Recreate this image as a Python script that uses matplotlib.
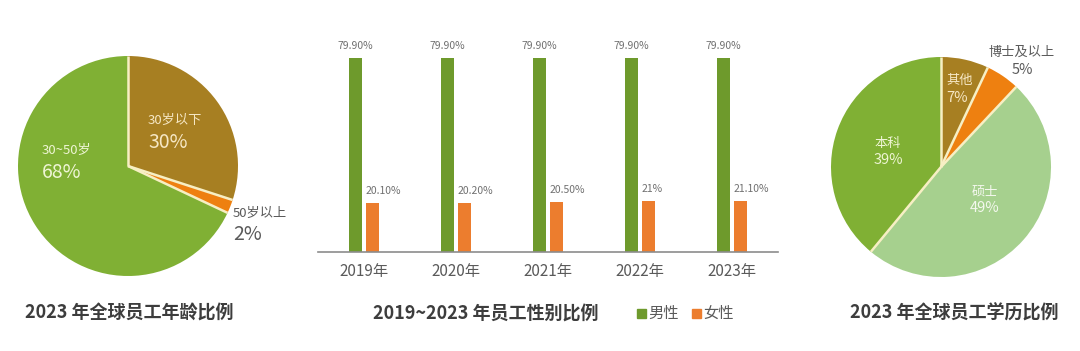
import matplotlib
matplotlib.use("Agg")
import matplotlib.pyplot as plt
import numpy as np

plt.rcParams['font.family'] = ['Noto Sans CJK SC', 'DejaVu Sans']

W, H = 1080, 351

# ── data ──────────────────────────────────────────────────────────────────────
age_labels = ["30岁以下", "50岁以上", "30~50岁"]
age_values = [30, 2, 68]
age_colors = ["#a77f22", "#ee8010", "#80b034"]

years = ["2019年", "2020年", "2021年", "2022年", "2023年"]
male = [79.9, 79.9, 79.9, 79.9, 79.9]
female = [20.1, 20.2, 20.5, 21.0, 21.1]
male_text = ["79.90%"] * 5
female_text = ["20.10%", "20.20%", "20.50%", "21%", "21.10%"]

edu_labels = ["其他", "博士及以上", "硕士", "本科"]
edu_values = [7, 5, 49, 39]
edu_colors = ["#a77f22", "#ee8010", "#a6d08e", "#80b034"]

BAR_GREEN = "#6e9a2c"
BAR_ORANGE = "#ec7d2e"
EDGE = "#f7efc4"
GRAY = "#5a5a5a"
LIGHT = "#707070"
TITLE = "#3d3d3d"

fig = plt.figure(figsize=(W / 100, H / 100), dpi=100)
fig.patch.set_facecolor("white")


def px_axes(cx, cy, r):
    return fig.add_axes([(cx - r) / W, (H - cy - r) / H, 2 * r / W, 2 * r / H])


def pie_text(ax, cx, cy, r, px, py, s, **kw):
    ax.text((px - cx) / r, (cy - py) / r, s, **kw)


def draw_pie(ax, values, colors):
    wedges, _ = ax.pie(values, colors=colors, startangle=90, counterclock=False,
                       radius=1, wedgeprops=dict(linewidth=0))
    # separator lines between wedges only (no outer rim)
    for w in wedges:
        a = np.deg2rad(w.theta1)
        ax.plot([0, np.cos(a)], [0, np.sin(a)], color=EDGE, lw=1.8, solid_capstyle="butt")
    ax.set_xlim(-1, 1); ax.set_ylim(-1, 1); ax.axis("off")


# ── age pie ───────────────────────────────────────────────────────────────────
cx1, cy1, r1 = 128, 166, 110
ax1 = px_axes(cx1, cy1, r1)
draw_pie(ax1, age_values, age_colors)
pie_text(ax1, cx1, cy1, r1, 148, 120, age_labels[0], color="#f6e7c4", fontsize=9.5, va="center")
pie_text(ax1, cx1, cy1, r1, 148, 142, f"{age_values[0]}%", color="#f6e7c4", fontsize=14, va="center")
pie_text(ax1, cx1, cy1, r1, 42, 150, age_labels[2], color="#eef5d4", fontsize=9.5, va="center")
pie_text(ax1, cx1, cy1, r1, 42, 173, f"{age_values[2]}%", color="#eef5d4", fontsize=14, va="center")
pie_text(ax1, cx1, cy1, r1, 233, 213, age_labels[1], color=GRAY, fontsize=9.5, va="center")
pie_text(ax1, cx1, cy1, r1, 233, 235, f"{age_values[1]}%", color=GRAY, fontsize=14, va="center")

# ── education pie ─────────────────────────────────────────────────────────────
cx2, cy2, r2 = 941, 167, 110
ax3 = px_axes(cx2, cy2, r2)
draw_pie(ax3, edu_values, edu_colors)
pie_text(ax3, cx2, cy2, r2, 946, 80, edu_labels[0], color="#f6e7c4", fontsize=9.5, va="center")
pie_text(ax3, cx2, cy2, r2, 946, 98, f"{edu_values[0]}%", color="#f6e7c4", fontsize=10.5, va="center")
pie_text(ax3, cx2, cy2, r2, 1022, 52, edu_labels[1], color=GRAY, fontsize=9.5, va="center", ha="center")
pie_text(ax3, cx2, cy2, r2, 1022, 70, f"{edu_values[1]}%", color=GRAY, fontsize=10.5, va="center", ha="center")
pie_text(ax3, cx2, cy2, r2, 985, 192, edu_labels[2], color="#f4f8ee", fontsize=9.5, va="center", ha="center")
pie_text(ax3, cx2, cy2, r2, 985, 208, f"{edu_values[2]}%", color="#f4f8ee", fontsize=10.5, va="center", ha="center")
pie_text(ax3, cx2, cy2, r2, 888, 143, edu_labels[3], color="#eef5d4", fontsize=9.5, va="center", ha="center")
pie_text(ax3, cx2, cy2, r2, 888, 160, f"{edu_values[3]}%", color="#eef5d4", fontsize=10.5, va="center", ha="center")

# ── gender bars ───────────────────────────────────────────────────────────────
left, right, base, top = 318, 778, 252, 30
ax2 = fig.add_axes([left / W, (H - base) / H, (right - left) / W, (base - top) / H])
x = np.arange(len(years))
bw, off = 0.141, 0.092
ax2.bar(x - off, male, bw, color=BAR_GREEN)
ax2.bar(x + off, female, bw, color=BAR_ORANGE)
ax2.set_xlim(-0.5, 4.5)
ax2.set_ylim(0, 222 / 2.43)
for i in range(len(years)):
    ax2.annotate(male_text[i], (x[i] - off, male[i]), xytext=(0, 5), textcoords="offset points",
                 ha="center", va="bottom", fontsize=7.5, color=LIGHT)
    ax2.annotate(female_text[i], (x[i] + off - bw / 2, female[i]), xytext=(0, 5), textcoords="offset points",
                 ha="left", va="bottom", fontsize=7.5, color=LIGHT)
for s in ("top", "right", "left"):
    ax2.spines[s].set_visible(False)
ax2.spines["bottom"].set_color("#8c8c8c")
ax2.spines["bottom"].set_linewidth(1.2)
ax2.set_yticks([])
ax2.set_xticks(x)
ax2.set_xticklabels(years, fontsize=11, color=GRAY)
ax2.tick_params(axis="x", length=0, pad=8)
ax2.patch.set_alpha(0)

# ── titles and legend ─────────────────────────────────────────────────────────
ty = 1 - 313 / H
fig.text(25 / W, ty, "2023 年全球员工年龄比例", fontsize=13, fontweight="bold", color=TITLE, va="center")
fig.text(373 / W, ty, "2019~2023 年员工性别比例", fontsize=13, fontweight="bold", color=TITLE, va="center")
fig.text(850 / W, ty, "2023 年全球员工学历比例", fontsize=13, fontweight="bold", color=TITLE, va="center")

for lx, col, lab in [(637, BAR_GREEN, "男性"), (692, BAR_ORANGE, "女性")]:
    fig.patches.append(plt.Rectangle((lx / W, 1 - 318 / H), 9 / W, 9 / H, color=col,
                                     transform=fig.transFigure, figure=fig))
    fig.text((lx + 11) / W, ty, lab, fontsize=11, color=GRAY, va="center")

fig.savefig("out.png", dpi=100, facecolor="white")
